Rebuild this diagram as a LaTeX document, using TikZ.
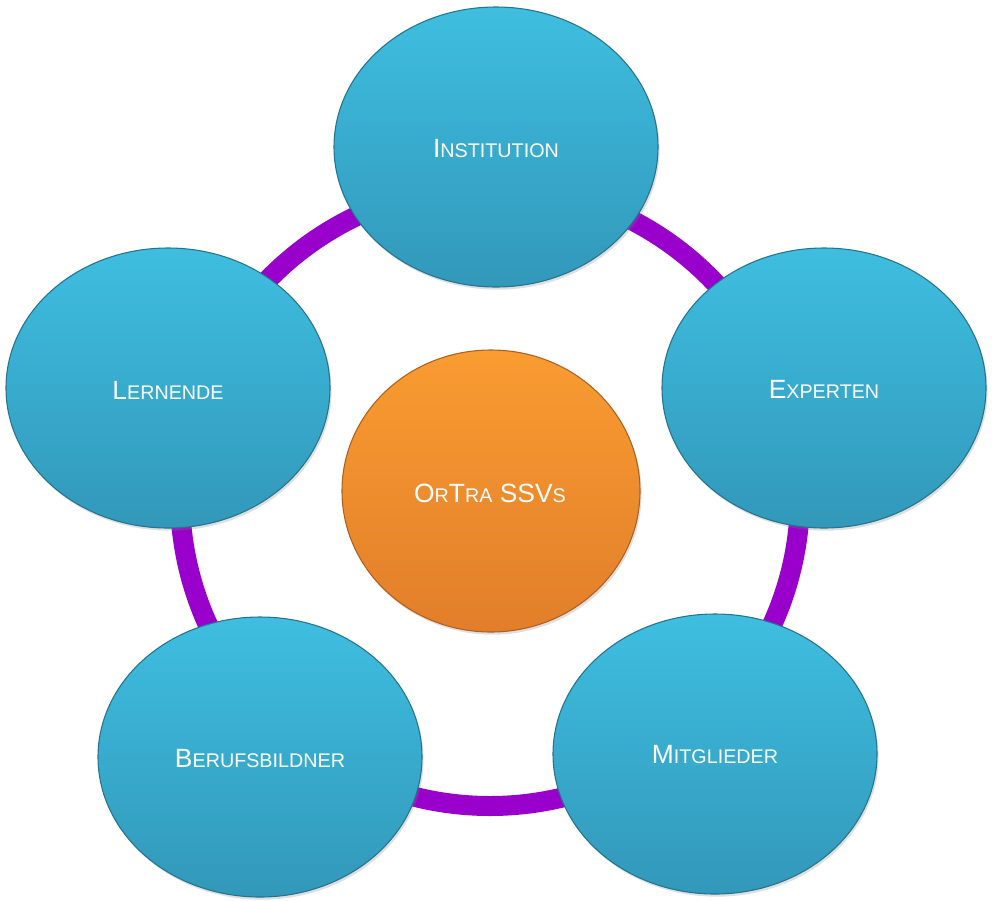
\documentclass[tikz,border=0pt]{standalone}
\usepackage{fontspec}
\setmainfont{Liberation Sans}
\usetikzlibrary{shapes.geometric,shadows}
\definecolor{bluetop}{HTML}{3EBEE0}
\definecolor{bluemid}{HTML}{38AFD2}
\definecolor{bluebot}{HTML}{3298BA}
\definecolor{blueedge}{HTML}{24738F}
\definecolor{orgtop}{HTML}{F99C31}
\definecolor{orgmid}{HTML}{F08E2E}
\definecolor{orgbot}{HTML}{E27E2A}
\definecolor{orgedge}{HTML}{B0601D}
\definecolor{ringpurple}{HTML}{9900CC}
\newcommand\lsc[1]{{\fontsize{14.8pt}{16pt}\selectfont #1}}
\tikzset{
  bubble/.style={ellipse, inner sep=0pt, minimum width=243pt, minimum height=210pt,
    top color=bluetop, middle color=bluemid, bottom color=bluebot, draw=blueedge, line width=0.8pt,
    drop shadow={opacity=0.25, shadow xshift=1.2pt, shadow yshift=-2pt},
    text=white, font=\fontsize{19.8pt}{22pt}\selectfont},
  hub/.style={bubble, minimum width=223.5pt, minimum height=211.5pt,
    top color=orgtop, middle color=orgmid, bottom color=orgbot, draw=orgedge},
  ring/.style={draw=ringpurple, line width=15pt},
  lbl/.style={text=white, inner sep=0pt, font=\fontsize{19.8pt}{22pt}\selectfont}
}
\begin{document}
\begin{tikzpicture}[x=0.75pt,y=-0.75pt]
\useasboundingbox (0,0) rectangle (992,900);
\coordinate (rc) at (490,496);
\draw[ring] (rc) circle[radius=310];
\node[bubble] (inst) at (496,147) {};
\node[bubble] (lern) at (168,388) {};
\node[bubble] (expe) at (824,388) {};
\node[bubble] (beru) at (260,757) {};
\node[bubble] (mitg) at (715,754) {};
\node[hub] (ortra) at (491,491) {};
\node[lbl] (tinst) at (496,149) {I\lsc{NSTITUTION}};
\node[lbl] (tlern) at (168,390) {L\lsc{ERNENDE}};
\node[lbl] (texpe) at (824,389) {E\lsc{XPERTEN}};
\node[lbl] (tberu) at (260,759) {B\lsc{ERUFSBILDNER}};
\node[lbl] (tmitg) at (715,755) {M\lsc{ITGLIEDER}};
\node[lbl] (tortra) at (490,493) {O\lsc{R}T\lsc{RA} SSV\lsc{S}};
\end{tikzpicture}
\end{document}
